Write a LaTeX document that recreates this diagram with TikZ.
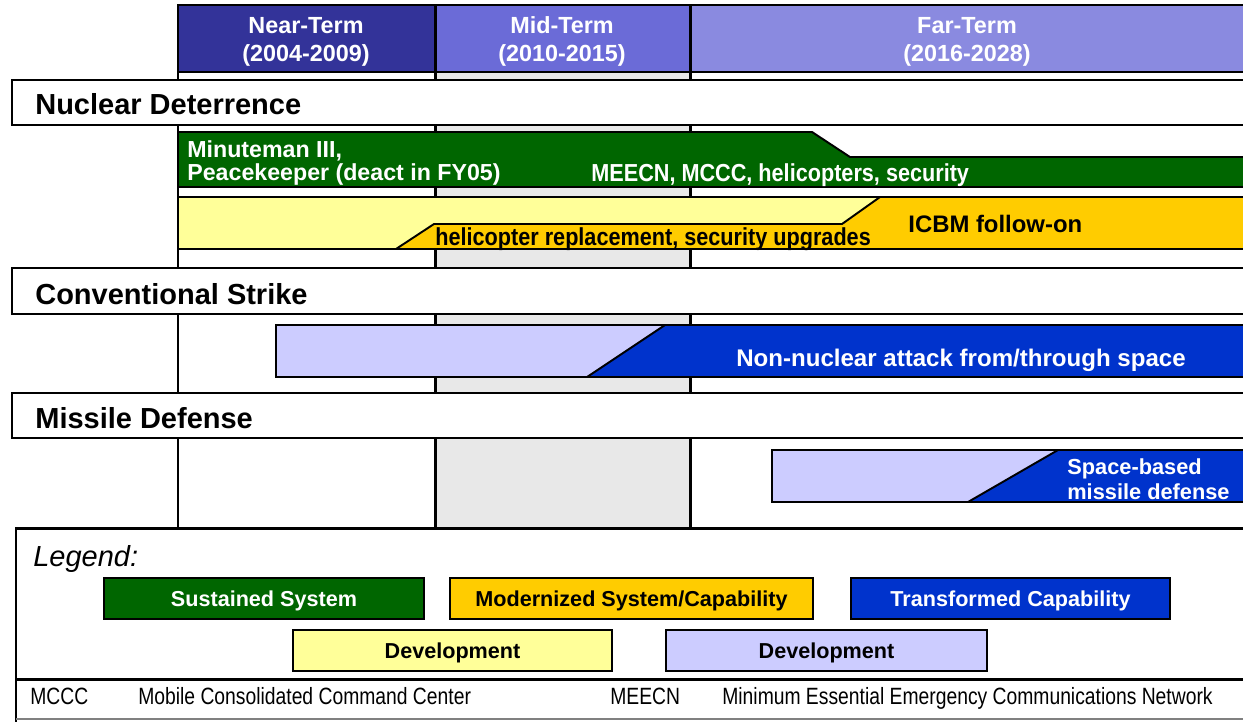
\documentclass[tikz,border=0pt]{standalone}
\usepackage{fontspec}
\setmainfont{Liberation Sans}
\newfontfamily\narrowfont[FakeStretch=0.82]{Liberation Sans}
\newfontfamily\condfont[FakeStretch=0.88]{Liberation Sans}
\definecolor{nearblue}{HTML}{333399}
\definecolor{midblue}{HTML}{6B6BD7}
\definecolor{farblue}{HTML}{8A8AE0}
\definecolor{colgray}{HTML}{E8E8E8}
\definecolor{sustgreen}{HTML}{006600}
\definecolor{devyellow}{HTML}{FFFF99}
\definecolor{modorange}{HTML}{FFCC00}
\definecolor{devlav}{HTML}{CCCCFF}
\definecolor{transblue}{HTML}{0033CC}

\begin{document}
\begin{tikzpicture}[x=0.02cm, y=-0.02cm,
  band/.style={draw=black, line width=1.3pt, fill=white},
  bar/.style={draw=black, line width=1.1pt},
  rowtitle/.style={anchor=base west, inner sep=0pt, font=\bfseries\fontsize{16.5}{18}\selectfont},
  headtext/.style={anchor=base, inner sep=0pt, text=white, font=\bfseries\fontsize{13.3}{15}\selectfont},
  bartext/.style={anchor=base west, inner sep=0pt, font=\bfseries\fontsize{13.2}{15}\selectfont},
  legbox/.style={draw=black, line width=1.5pt, minimum height=0.82cm, inner sep=0pt,
    text depth=0pt, font=\bfseries\fontsize{12.3}{14}\selectfont},
  note/.style={anchor=base west, inner sep=0pt, font=\narrowfont\fontsize{13.4}{15}\selectfont}]
  \clip (0,0) rectangle (1243,721);
  \fill[white] (0,0) rectangle (1243,721);

  % Mid-term shading and column rules
  \fill[colgray] (435,72) rectangle (690,528);
  \foreach \x in {178,435,690}
    \draw[line width=1.7pt] (\x,5) -- (\x,528);

  % Header
  \draw[line width=1.7pt, fill=nearblue] (178,5) rectangle (435,72);
  \draw[line width=1.7pt, fill=midblue]  (435,5) rectangle (690,72);
  \draw[line width=1.7pt, fill=farblue]  (690,5) rectangle (1260,72);
  \node[headtext] (hnear)  at (306,33) {Near-Term};
  \node[headtext] (hneary) at (306,61) {(2004-2009)};
  \node[headtext] (hmid)   at (562,33) {Mid-Term};
  \node[headtext] (hmidy)  at (562,61) {(2010-2015)};
  \node[headtext] (hfar)   at (967,33) {Far-Term};
  \node[headtext] (hfary)  at (967,61) {(2016-2028)};

  % Row bands
  \draw[band] (12,80)  rectangle (1260,125);
  \draw[band] (12,268) rectangle (1260,314);
  \draw[band] (12,393) rectangle (1260,438);
  \node[rowtitle] (nd) at (35,114) {Nuclear Deterrence};
  \node[rowtitle] (cs) at (35,304) {Conventional Strike};
  \node[rowtitle] (md) at (35,428) {Missile Defense};

  % Nuclear deterrence bars
  \draw[bar, fill=sustgreen] (178,132) -- (812,132) -- (850,157) -- (1260,157)
        -- (1260,187) -- (178,187) -- cycle;
  \draw[bar, fill=devyellow] (178,197) rectangle (895,249);
  \draw[bar, fill=modorange] (396,249) -- (434,224) -- (842,224) -- (880,197)
        -- (1260,197) -- (1260,249) -- cycle;
  \node[bartext, text=white] (minuteman)   at (187,157) {Minuteman III,};
  \node[bartext, text=white] (peacekeeper) at (187,180) {Peacekeeper (deact in FY05)};
  \node[bartext, text=white, font=\condfont\bfseries\fontsize{14}{15}\selectfont]
        (meecn) at (591,181) {MEECN, MCCC, helicopters, security};
  \node[bartext, font=\condfont\bfseries\fontsize{14}{15}\selectfont]
        (helirep) at (435,245) {helicopter replacement, security upgrades};
  \node[bartext, font=\bfseries\fontsize{13.6}{15}\selectfont]
        (icbm) at (908,232) {ICBM follow-on};

  % Conventional strike bar
  \draw[bar, fill=devlav] (276,325) rectangle (1260,377);
  \draw[bar, fill=transblue] (587,377) -- (665,325) -- (1260,325) -- (1260,377) -- cycle;
  \node[bartext, anchor=base, text=white, font=\bfseries\fontsize{13.7}{15}\selectfont]
        (nonnuc) at (961,366) {Non-nuclear attack from/through space};

  % Missile defense bar
  \draw[bar, fill=devlav] (772,450) rectangle (1260,502);
  \draw[bar, fill=transblue] (968,502) -- (1058,450) -- (1260,450) -- (1260,502) -- cycle;
  \node[bartext, text=white, font=\bfseries\fontsize{12.4}{14}\selectfont]
        (spacea) at (1067,474) {Space-based};
  \node[bartext, text=white, font=\bfseries\fontsize{12.4}{14}\selectfont]
        (spaceb) at (1067,499) {missile defense};

  % Legend frame
  \draw[line width=1.7pt] (1260,528) -- (16,528) -- (16,730);
  \draw[line width=1.7pt] (16,679) -- (1260,679);
  \draw[gray, line width=0.6pt] (16,719) -- (1260,719);
  \node[anchor=base west, inner sep=0pt, font=\itshape\fontsize{16.5}{18}\selectfont]
        (legtitle) at (33,566) {Legend:};

  % Legend keys
  \node[legbox, fill=sustgreen, text=white, minimum width=6.4cm]  (ksust)  at (264,598.5) {Sustained System};
  \node[legbox, fill=modorange, minimum width=7.26cm]             (kmod)   at (631.5,598.5) {Modernized System/Capability};
  \node[legbox, fill=transblue, text=white, minimum width=6.38cm] (ktrans) at (1010.5,598.5) {Transformed Capability};
  \node[legbox, fill=devyellow, minimum width=6.38cm]             (kdevy)  at (452.5,650.5) {Development};
  \node[legbox, fill=devlav, minimum width=6.42cm]                (kdevl)  at (826.5,650.5) {Development};

  % Abbreviations
  \node[note] (mccc)   at (30,704)  {MCCC};
  \node[note] (mcccx)  at (138,704) {Mobile Consolidated Command Center};
  \node[note] (meec)   at (610,704) {MEECN};
  \node[note] (meecx)  at (722,704) {Minimum Essential Emergency Communications Network};
\end{tikzpicture}
\end{document}
